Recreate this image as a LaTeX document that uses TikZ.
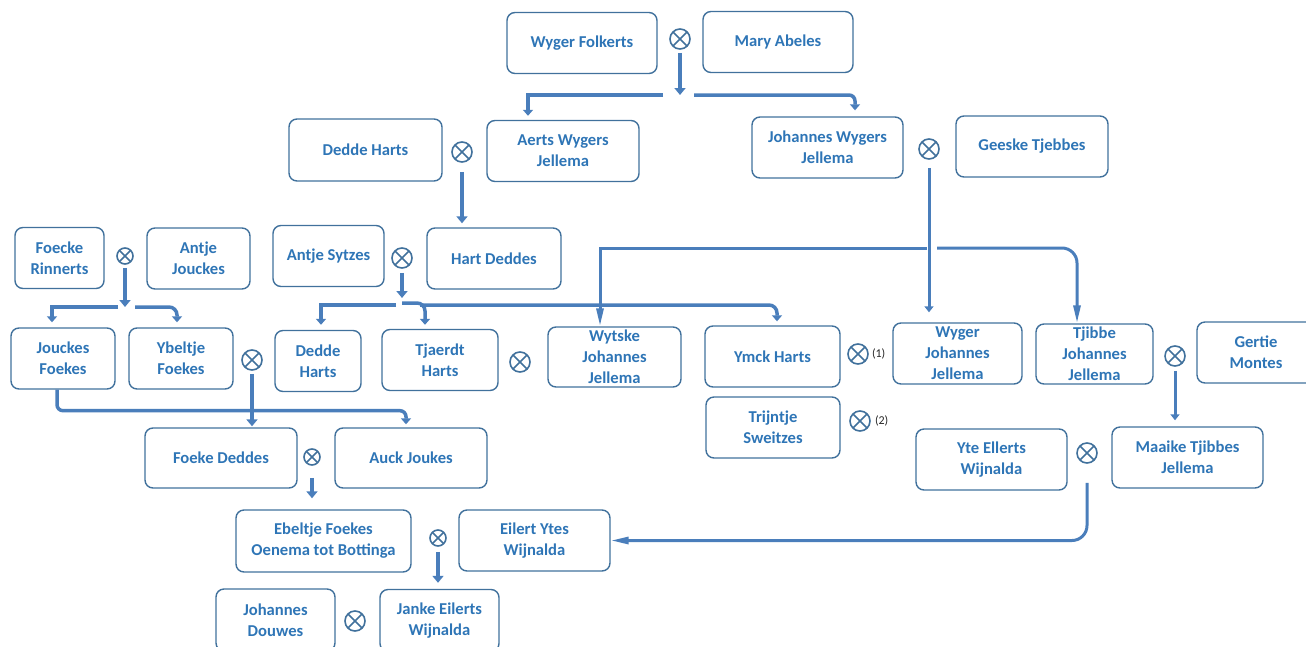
\documentclass[tikz,border=0pt]{standalone}
\usepackage{fontspec}
\setmainfont{Carlito}
\usetikzlibrary{arrows.meta, positioning}

\definecolor{boxline}{RGB}{65,113,156}
\definecolor{boxtext}{RGB}{46,117,182}
\definecolor{linkblue}{RGB}{74,126,187}

\begin{document}
\begin{tikzpicture}[x=1pt, y=-1pt,
    person/.style={draw=boxline, line width=1.4pt, rounded corners=8pt,
      text=boxtext, font=\fontsize{16.6}{21}\selectfont\bfseries,
      align=center, minimum height=61pt, inner sep=0pt},
    mar/.style={circle, draw=boxline, line width=1.6pt, minimum size=20pt, inner sep=0pt,
      path picture={\draw[boxline, line width=1.6pt]
        (path picture bounding box.south west) -- (path picture bounding box.north east)
        (path picture bounding box.north west) -- (path picture bounding box.south east);}},
    mar small/.style={mar, minimum size=16pt},
    note/.style={font=\fontsize{12}{14}\selectfont, text=black!85, inner sep=1pt},
    fat/.style={draw=linkblue, line width=4pt, -{Triangle[width=11pt,length=7pt]}},
    branch/.style={draw=linkblue, line width=3.5pt, -{Triangle[width=10pt,length=6pt]}},
    slim/.style={draw=linkblue, line width=3pt, -{Triangle[width=9pt,length=6pt]}},
    spike/.style={draw=linkblue, line width=3pt, -{Triangle[width=7pt,length=18pt]}}]
  \useasboundingbox (0,0) rectangle (1306,646);

  % people
  \node[person, minimum width=150pt] (wf) at (582,43) {Wyger Folkerts};
  \node[person, minimum width=150pt] (ma) at (778,42) {Mary Abeles};
  \node[person, minimum width=152pt] (aw) at (563,151) {Aerts Wygers\\Jellema};
  \node[person, minimum width=151pt] (jw) at (827.5,147.5) {Johannes Wygers\\Jellema};
  \node[person, minimum width=152pt] (gt) at (1032,146.5) {Geeske Tjebbes};
  \node[person, minimum width=153pt, minimum height=62pt] (dh) at (365.5,150) {Dedde Harts};
  \node[person, minimum width=134pt] (hd) at (494,258.5) {Hart Deddes};
  \node[person, minimum width=111pt] (as) at (328.5,256) {Antje Sytzes};
  \node[person, minimum width=89pt] (fr) at (59.5,258) {Foecke\\Rinnerts};
  \node[person, minimum width=103pt] (aj) at (198.5,258.5) {Antje\\Jouckes};
  \node[person, minimum width=104pt] (jf) at (63,358.5) {Jouckes\\Foekes};
  \node[person, minimum width=104pt] (yf) at (181,358.5) {Ybeltje\\Foekes};
  \node[person, minimum width=86pt] (dh2) at (318,361) {Dedde\\Harts};
  \node[person, minimum width=116pt] (th) at (440,360) {Tjaerdt\\Harts};
  \node[person, minimum width=133pt, minimum height=60pt] (wj) at (614.5,357) {Wytske\\Johannes\\Jellema};
  \node[person, minimum width=135pt] (yh) at (772.5,356.5) {Ymck Harts};
  \node[person, minimum width=129pt] (wy) at (957.5,353.5) {Wyger\\Johannes\\Jellema};
  \node[person, minimum width=117pt, minimum height=60pt] (tj) at (1094.5,354) {Tjibbe\\Johannes\\Jellema};
  \node[person, minimum width=118pt] (gm) at (1256,352.5) {Gertie\\Montes};
  \node[person, minimum width=134pt] (ts) at (773,427.5) {Trijntje\\Sweitzes};
  \node[person, minimum width=151pt] (ye) at (991.5,459.5) {Yte Ellerts\\Wijnalda};
  \node[person, minimum width=151pt] (mt) at (1187.5,457.5) {Maaike Tjibbes\\Jellema};
  \node[person, minimum width=152pt, minimum height=60pt] (fd) at (221,458) {Foeke Deddes};
  \node[person, minimum width=152pt, minimum height=60pt] (au) at (411,458) {Auck Joukes};
  \node[person, minimum width=175pt, minimum height=62pt] (eb) at (323.5,541) {Ebeltje Foekes\\Oenema tot Bottinga};
  \node[person, minimum width=151pt] (ey) at (534.5,540.5) {Eilert Ytes\\Wijnalda};
  \node[person, minimum width=119pt, minimum height=62pt] (jd) at (275.5,620) {Johannes\\Douwes};
  \node[person, minimum width=119pt, minimum height=62pt] (je) at (439.5,620.5) {Janke Eilerts\\Wijnalda};

  % marriages
  \foreach \m/\x/\y in {m1/680/39, m2/929/149, m3/462/152, m4/402/258, m6/252/360,
      m7/520/362, m8/858/354, m9/1175/356, m10/860/421, m11/1087/453, m14/355/621}
    \node[mar] (\m) at (\x,\y) {};
  \foreach \m/\x/\y in {m5/125/256, m12/312/457, m13/438/538}
    \node[mar small] (\m) at (\x,\y) {};

  \node[note, right=2pt of m8] (n1) {(1)};
  \node[note, right=3pt of m10] (n2) {(2)};

  % children
  \coordinate (b1) at (680,95);
  \draw[fat, shorten <=3pt] (m1.south) -- (b1);
  \draw[branch, shorten >=4pt] ([xshift=-17pt]b1) -| ([xshift=-35pt]aw.north);
  \draw[branch, rounded corners=6pt, shorten >=6pt] ([xshift=14pt]b1) -| ([xshift=27.5pt]jw.north);

  \draw[fat, shorten <=9pt, shorten >=4pt] (m3.south) -- (m3.south |- hd.north);

  \coordinate (b2) at (929,248);
  \draw[slim, shorten <=8pt, shorten >=10pt] (m2.south) -- (m2.south |- wy.north);
  \draw[spike] ([xshift=-2pt]b2) -| ([xshift=-14.5pt]wj.north);
  \draw[spike, rounded corners=15pt] ([xshift=8pt]b2) -| ([xshift=-17.5pt]tj.north);

  \coordinate (b4) at (402,305);
  \draw[fat, shorten <=4pt] (m4.south) -- ([yshift=7pt]b4);
  \draw[branch, shorten >=5pt] ([xshift=-6pt]b4) -| ([xshift=3pt]dh2.north);
  \draw[branch, rounded corners=8pt, shorten >=4pt] ([yshift=2pt]b4) -| ([xshift=-15pt]th.north);
  \draw[branch, rounded corners=8pt, shorten >=4pt] ([xshift=18pt]b4) -| ([xshift=4.5pt]yh.north);

  \coordinate (b5) at (125,307);
  \draw[fat, shorten <=3pt] (m5.south) -- (b5);
  \draw[branch, shorten >=5pt] ([xshift=-7pt]b5) -| ([xshift=-11pt]jf.north);
  \draw[branch, rounded corners=8pt, shorten >=5pt] ([xshift=10pt]b5) -| ([xshift=-4pt]yf.north);

  \draw[fat, shorten <=3pt, shorten >=1pt] (m6.south) -- (m6.south |- fd.north);
  \draw[branch, rounded corners=6pt, shorten >=3pt] ([xshift=-6pt]jf.south) -- ++(0,-21pt) -| ([xshift=-5pt]au.north);

  \draw[fat, shorten <=12pt, shorten >=11pt] (m12.south) -- (m12.south |- eb.north);
  \draw[fat, shorten <=5pt, shorten >=6pt] (m13.south) -- (m13.south |- je.north);

  \draw[slim, shorten <=4pt, shorten >=6pt] (m9.south) -- (m9.south |- mt.north);
  \draw[spike, rounded corners=15pt, shorten <=19pt] (m11.south) |- (ey.east);
\end{tikzpicture}
\end{document}
